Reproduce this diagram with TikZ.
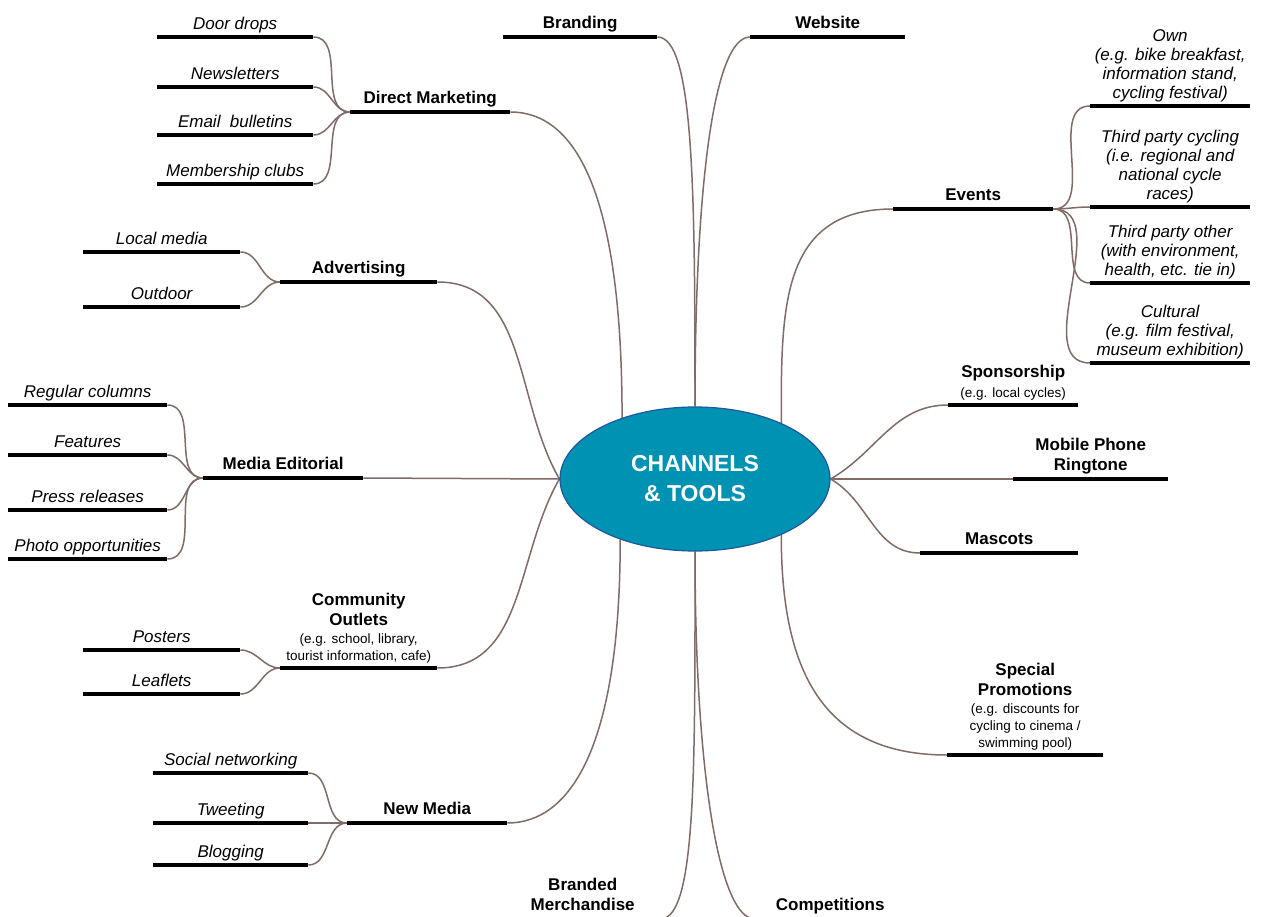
\documentclass[tikz,border=0pt]{standalone}
\usepackage{fontspec}
\setmainfont{Liberation Sans}
\usetikzlibrary{positioning,shapes.geometric,backgrounds}
\definecolor{linkbrown}{RGB}{128,108,102}
\definecolor{hubteal}{RGB}{0,146,178}
\definecolor{hubedge}{RGB}{30,88,158}

\begin{document}
\begin{tikzpicture}[x=1pt,y=-1pt,
  head/.style={font=\bfseries\fontsize{17}{20}\selectfont, align=center, anchor=south west, inner xsep=0pt, inner ysep=2pt, execute at end node=\strut},
  twig/.style={font=\itshape\fontsize{17}{19}\selectfont, align=center, anchor=south west, inner xsep=0pt, inner ysep=2pt, execute at end node=\strut},
  note/.style={font=\fontsize{13.5}{17}\selectfont, align=center, anchor=south west, inner xsep=0pt, inner ysep=2pt, execute at end node=\strut},
  bar/.style={line width=4pt},
  link/.style={draw=linkbrown, line width=1.5pt}]
\useasboundingbox (0,0) rectangle (1261,917);

% hub
\node[ellipse, fill=hubteal, draw=hubedge, line width=1.2pt, minimum width=270pt, minimum height=144pt,
  text=white, font=\bfseries\fontsize{23}{30}\selectfont, align=center] (hub) at (695,479) {CHANNELS\\\& TOOLS};

% top
\node[head, minimum width=154pt] (brand) at (503,37) {Branding};
\node[head, minimum width=155pt] (web) at (750,37) {Website};

% direct marketing
\node[head, minimum width=160pt] (dm) at (350,112) {Direct Marketing};
\node[twig, minimum width=156pt] (door) at (157,37) {Door drops};
\node[twig, minimum width=156pt] (newsl) at (157,87) {Newsletters};
\node[twig, minimum width=156pt] (email) at (157,135) {Email~~bulletins};
\node[twig, minimum width=156pt] (club) at (157,184) {Membership clubs};

% advertising
\node[head, minimum width=157pt] (adv) at (280,282) {Advertising};
\node[twig, minimum width=157pt] (local) at (83,252) {Local media};
\node[twig, minimum width=157pt] (outdoor) at (83,307) {Outdoor};

% media editorial
\node[head, minimum width=160pt] (med) at (203,478) {Media Editorial};
\node[twig, minimum width=159pt] (regcol) at (8,405) {Regular columns};
\node[twig, minimum width=159pt] (feat) at (8,455) {Features};
\node[twig, minimum width=159pt] (press) at (8,510) {Press releases};
\node[twig, minimum width=159pt] (photo) at (8,559) {Photo opportunities};

% community outlets
\node[note, minimum width=157pt] (com) at (280,668) {(e.g. school, library,\\tourist information, cafe)};
\node[head, above=-2pt of com] (comT) {Community\\Outlets};
\node[twig, minimum width=157pt] (poster) at (83,650) {Posters};
\node[twig, minimum width=157pt] (leaflet) at (83,694) {Leaflets};

% new media
\node[head, minimum width=160pt] (nm) at (347,823) {New Media};
\node[twig, minimum width=155pt] (social) at (153,773) {Social networking};
\node[twig, minimum width=155pt] (tweet) at (153,823) {Tweeting};
\node[twig, minimum width=155pt] (blog) at (153,865) {Blogging};

% bottom
\node[head, minimum width=155pt] (merch) at (505,919) {Branded\\Merchandise};
\node[head, minimum width=150pt] (comp) at (755,919) {Competitions};

% events
\node[head, minimum width=160pt] (ev) at (893,209) {Events};
\node[twig, minimum width=160pt] (own) at (1090,106) {Own\\(e.g. bike breakfast,\\information stand,\\cycling festival)};
\node[twig, minimum width=160pt] (tpc) at (1090,207) {Third party cycling\\(i.e. regional and\\national cycle\\races)};
\node[twig, minimum width=160pt] (tpo) at (1090,283) {Third party other\\(with environment,\\health, etc. tie in)};
\node[twig, minimum width=160pt] (cult) at (1090,363) {Cultural\\(e.g. film festival,\\museum exhibition)};

% right side
\node[note, minimum width=130pt] (spon) at (948,405) {(e.g. local cycles)};
\node[head, above=-2pt of spon] (sponT) {Sponsorship};
\node[head, minimum width=155pt] (mob) at (1013,479) {Mobile Phone\\Ringtone};
\node[head, minimum width=158pt] (masc) at (920,553) {Mascots};
\node[note, minimum width=156pt] (promo) at (947,755) {(e.g. discounts for\\cycling to cinema /\\swimming pool)};
\node[head, above=-2pt of promo] (promoT) {Special\\Promotions};

\foreach \n in {brand,web,dm,door,newsl,email,club,adv,local,outdoor,med,regcol,feat,press,photo,
  com,poster,leaflet,nm,social,tweet,blog,merch,comp,ev,own,tpc,tpo,cult,spon,mob,masc,promo}
  \draw[bar] (\n.south west) -- (\n.south east);

\begin{scope}[on background layer]
\fill[white] (0,0) rectangle (1261,917);
% branches into the hub
\draw[link] (brand.south east) to[out=0,in=90,out looseness=0.25,in looseness=1.5] (hub.north);
\draw[link] (web.south west) to[out=180,in=90,out looseness=0.25,in looseness=1.5] (hub.north);
\draw[link] (dm.south east) to[out=0,in=90,out looseness=0.5,in looseness=1.8] (hub.140);
\draw[link] (adv.south east) to[out=0,in=120] (hub.west);
\draw[link] (med.south east) -- (hub.west);
\draw[link] (com.south east) to[out=0,in=-120] (hub.west);
\draw[link] (nm.south east) to[out=0,in=-90,out looseness=0.5,in looseness=1.8] (hub.219);
\draw[link] (merch.south east) to[out=0,in=-90,out looseness=0.25,in looseness=1.5] (hub.south);
\draw[link] (comp.south west) to[out=180,in=-90,out looseness=0.25,in looseness=1.5] (hub.south);
\draw[link] (ev.south west) to[out=180,in=90,looseness=1.2] (hub.33);
\draw[link] (spon.south west) to[out=180,in=30] (hub.east);
\draw[link] (mob.south west) -- (hub.east);
\draw[link] (masc.south west) to[out=180,in=-30] (hub.east);
\draw[link] (promo.south west) to[out=180,in=-90,looseness=1.2] (hub.-33);
% sub branches
\foreach \n in {door,newsl,email,club}
  \draw[link] (\n.south east) to[out=0,in=180] (dm.south west);
\foreach \n in {local,outdoor}
  \draw[link] (\n.south east) to[out=0,in=180] (adv.south west);
\foreach \n in {regcol,feat,press,photo}
  \draw[link] (\n.south east) to[out=0,in=180] (med.south west);
\foreach \n in {poster,leaflet}
  \draw[link] (\n.south east) to[out=0,in=180] (com.south west);
\foreach \n in {social,tweet,blog}
  \draw[link] (\n.south east) to[out=0,in=180] (nm.south west);
\foreach \n in {own,tpc,tpo,cult}
  \draw[link] (ev.south east) to[out=0,in=180] (\n.south west);
\end{scope}

\end{tikzpicture}
\end{document}
